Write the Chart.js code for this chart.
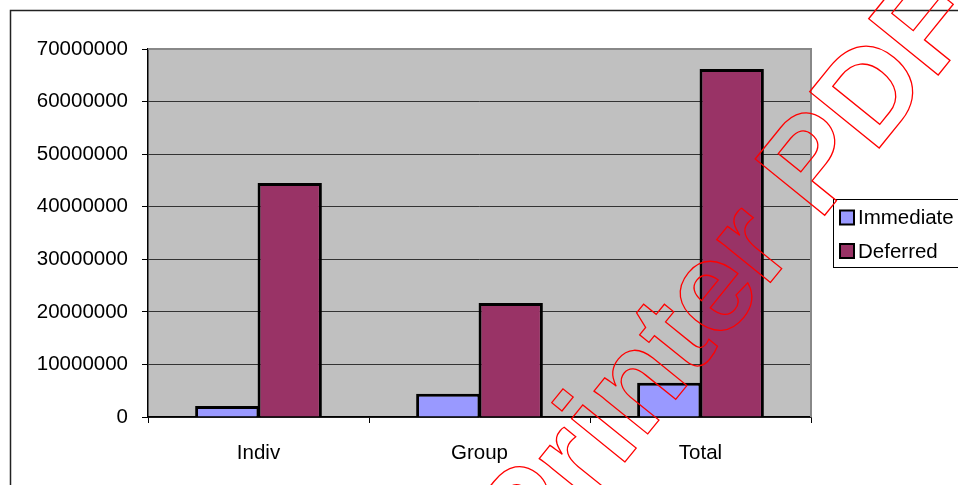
<!DOCTYPE html>
<html>
<head>
<meta charset="utf-8">
<script src="https://cdn.jsdelivr.net/npm/chart.js@4.4.1/dist/chart.umd.min.js"></script>
<style>
  html, body { margin: 0; padding: 0; background: #fff; }
  #wrap { position: relative; width: 958px; height: 485px; }
</style>
</head>
<body>
<div id="wrap"><canvas id="premiumChart"></canvas></div>
<script>
// Chart data
const categories = ['Indiv', 'Group', 'Total'];
const immediateValues = [2100000, 4400000, 6500000];
const deferredValues = [44500000, 21700000, 66200000];
const seriesNames = ['Immediate', 'Deferred'];
const seriesColors = ['#9999FF', '#993366'];
const yMax = 70000000;
const yStep = 10000000;

const FONT = '"Liberation Sans", Arial, sans-serif';

// White page, outer chart frame, grey plot area
const backdropPlugin = {
  id: 'backdrop',
  beforeDraw(chart) {
    const ctx = chart.ctx;
    const a = chart.chartArea;
    ctx.save();
    ctx.fillStyle = '#fff';
    ctx.fillRect(0, 0, chart.width, chart.height);
    ctx.strokeStyle = '#222';
    ctx.lineWidth = 1.5;
    ctx.beginPath();
    ctx.moveTo(10.5, chart.height);
    ctx.lineTo(10.5, 10.5);
    ctx.lineTo(chart.width, 10.5);
    ctx.stroke();
    ctx.fillStyle = '#C0C0C0';
    ctx.fillRect(a.left, a.top, a.right - a.left, a.bottom - a.top);
    ctx.restore();
  },
  beforeDatasetsDraw(chart) {
    const ctx = chart.ctx;
    const a = chart.chartArea;
    ctx.save();
    ctx.strokeStyle = '#888';
    ctx.lineWidth = 2;
    ctx.beginPath();
    ctx.moveTo(a.left, a.top);
    ctx.lineTo(a.right, a.top);
    ctx.lineTo(a.right, a.bottom);
    ctx.stroke();
    ctx.restore();
  }
};

// Boxed legend on the right, drawn from the datasets
const boxLegendPlugin = {
  id: 'boxLegend',
  afterDraw(chart) {
    const ctx = chart.ctx;
    const x = 833, y = 199, w = 140, h = 68;
    ctx.save();
    ctx.fillStyle = '#fff';
    ctx.fillRect(x, y, w, h);
    ctx.strokeStyle = '#000';
    ctx.lineWidth = 1;
    ctx.strokeRect(x + 0.5, y + 0.5, w, h);
    ctx.font = '20.5px ' + FONT;
    ctx.textBaseline = 'middle';
    chart.data.datasets.forEach((ds, i) => {
      const cy = 217.5 + i * 33.5;
      ctx.fillStyle = ds.backgroundColor;
      ctx.fillRect(840, cy - 7, 14, 14);
      ctx.lineWidth = 2;
      ctx.strokeStyle = '#000';
      ctx.strokeRect(840, cy - 7, 14, 14);
      ctx.fillStyle = '#000';
      ctx.fillText(ds.label, 858, cy + 1);
    });
    ctx.restore();
  }
};

// Outlined red watermark across the chart
const watermarkPlugin = {
  id: 'watermark',
  afterDraw(chart) {
    const ctx = chart.ctx;
    const text = 'Printer PDF';
    const angle = -51 * Math.PI / 180;
    ctx.save();
    ctx.font = 'bold 130px ' + FONT;
    // anchor: lower-left corner of the "D" stem
    const offset = ctx.measureText('Printer P').width + 130 * 0.076;
    const ox = 880 - offset * Math.cos(angle);
    const oy = 147 - offset * Math.sin(angle);
    ctx.translate(ox, oy);
    ctx.rotate(angle);
    ctx.textBaseline = 'alphabetic';
    ctx.strokeStyle = '#ff0000';
    ctx.lineWidth = 1.3;
    ctx.strokeText(text, 0, 0);
    ctx.restore();
  }
};

new Chart(document.getElementById('premiumChart'), {
  type: 'bar',
  data: {
    labels: categories,
    datasets: [{
      label: seriesNames[0],
      data: immediateValues,
      backgroundColor: seriesColors[0],
      borderColor: '#000',
      borderWidth: 3,
      inflateAmount: 0
    }, {
      label: seriesNames[1],
      data: deferredValues,
      backgroundColor: seriesColors[1],
      borderColor: '#000',
      borderWidth: 3,
      inflateAmount: 0
    }]
  },
  options: {
    responsive: true,
    maintainAspectRatio: false,
    animation: false,
    layout: {
      padding: { top: 49, right: 147, bottom: 0, left: 0 }
    },
    datasets: {
      // slight overlap so neighbouring bars share one border
      bar: { categoryPercentage: 0.565, barPercentage: 1.03 }
    },
    plugins: {
      legend: { display: false },
      tooltip: { enabled: false }
    },
    scales: {
      x: {
        grid: {
          offset: true,
          drawOnChartArea: false,
          drawTicks: true,
          tickLength: 6,
          color: '#000'
        },
        border: { color: '#000', width: 1.5 },
        ticks: {
          color: '#000',
          padding: 18,
          font: { family: FONT, size: 20.5 }
        },
        afterFit: function(scale) { scale.height = 68; }
      },
      y: {
        min: 0,
        max: yMax,
        ticks: {
          stepSize: yStep,
          color: '#000',
          padding: 14,
          font: { family: FONT, size: 20.5 },
          callback: function(value) { return String(value); }
        },
        grid: {
          color: function(c) { return c.tick && c.tick.value === yMax ? '#888' : '#333'; },
          tickColor: '#000',
          tickLength: 6,
          lineWidth: 1
        },
        border: { color: '#000', width: 1.5 },
        afterFit: function(scale) { scale.width = 148; }
      }
    }
  },
  plugins: [backdropPlugin, boxLegendPlugin, watermarkPlugin]
});
</script>
</body>
</html>
